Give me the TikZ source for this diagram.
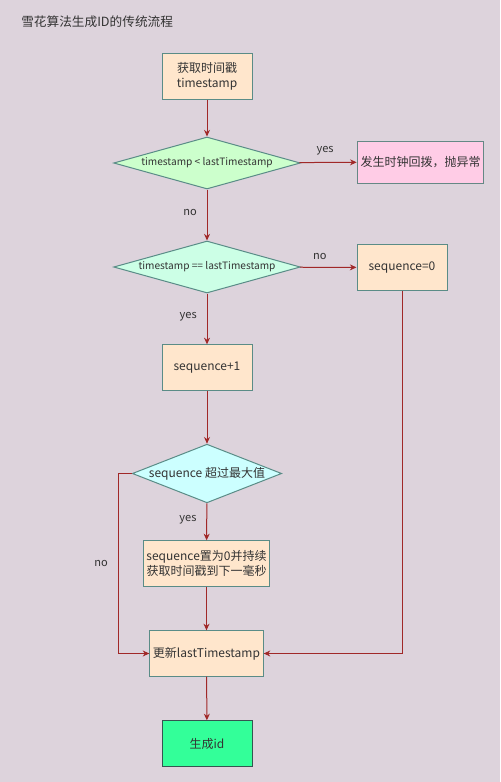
\documentclass[tikz,border=0pt]{standalone}
\usepackage{fontspec}
\setmainfont{Noto Sans CJK SC}
\usetikzlibrary{shapes.geometric,arrows.meta}
\definecolor{bg}{RGB}{221,211,220}
\definecolor{txt}{RGB}{51,51,51}
\definecolor{edge}{RGB}{160,40,40}
\definecolor{bstroke}{RGB}{90,140,135}
\definecolor{orangefill}{RGB}{255,230,204}
\definecolor{pinkfill}{RGB}{255,204,230}
\definecolor{greenfill}{RGB}{204,255,204}
\definecolor{mintfill}{RGB}{204,255,230}
\definecolor{cyanfill}{RGB}{204,255,255}
\definecolor{endfill}{RGB}{51,255,153}
\begin{document}
\begin{tikzpicture}[x=0.75pt,y=-0.75pt,
  every node/.style={text=txt,font=\fontsize{9}{11}\selectfont},
  box/.style={draw=bstroke,line width=0.75pt,fill=orangefill,inner sep=0pt,align=center},
  dia/.style={diamond,draw=bstroke,line width=0.75pt,inner sep=0pt},
  dtext/.style={font=\fontsize{7.6}{9}\selectfont},
  conn/.style={draw=edge,line width=0.75pt,-{Stealth[length=5pt,width=4.5pt]}},
  lbl/.style={font=\fontsize{8.3}{10}\selectfont}]
\fill[bg] (0,0) rectangle (500,782);
\useasboundingbox (0,0) rectangle (500,782);

\node[anchor=west,inner sep=0pt,font=\fontsize{9.5}{12}\selectfont] (title) at (21,22) {雪花算法生成ID的传统流程};

\node[box,minimum width=67.5pt,minimum height=34.5pt] (b1) at (207,76) {获取时间戳\\timestamp};
\node[dia,fill=greenfill,minimum width=140pt,minimum height=39pt] (d1) at (207,163) {};
\node[dtext] at (d1.center) {timestamp < lastTimestamp};
\node[box,fill=pinkfill,draw=bstroke!70!gray,minimum width=95pt,minimum height=31.5pt] (err) at (420.5,162) {发生时钟回拨，抛异常};
\node[dia,fill=mintfill,minimum width=140pt,minimum height=39pt] (d2) at (207,267) {};
\node[dtext] at (d2.center) {timestamp == lastTimestamp};
\node[box,minimum width=67.5pt,minimum height=34pt] (s0) at (402,267.5) {sequence=0};
\node[box,minimum width=67.5pt,minimum height=34pt] (s1) at (207,367.5) {sequence+1};
\node[dia,fill=cyanfill,minimum width=112pt,minimum height=44pt] (d3) at (207,473.5) {};
\node at (d3.center) {sequence 超过最大值};
\node[box,minimum width=95pt,minimum height=34pt] (wait) at (206.5,563.5) {sequence置为0并持续\\获取时间戳到下一毫秒};
\node[box,minimum width=85pt,minimum height=34pt] (upd) at (206.5,653.5) {更新lastTimestamp};
\node[box,fill=endfill,draw=bstroke!60!black,minimum width=67.5pt,minimum height=34pt] (gen) at (207,743.5) {生成id};

\draw[conn] (b1) -- (d1);
\draw[conn] (d1) -- node[lbl,above=2pt,pos=0.45] {yes} (err);
\draw[conn] (d1) -- node[lbl,left=4pt,pos=0.45] {no} (d2);
\draw[conn] (d2) -- node[lbl,above=2pt,pos=0.35] {no} (s0);
\draw[conn] (d2) -- node[lbl,left=4pt,pos=0.45] {yes} (s1);
\draw[conn] (s1) -- (d3);
\draw[conn] (d3) -- node[lbl,left=4pt,pos=0.45] {yes} (wait);
\coordinate (nl1) at (118,473.5);
\coordinate (nl2) at (118,653.5);
\draw[conn] (d3.west) -- (nl1) -- node[lbl,left=4pt,pos=0.5] {no} (nl2) -- (upd.west);
\draw[conn] (wait) -- (upd);
\coordinate (sr) at (402,653.5);
\draw[conn] (s0.south) -- (sr) -- (upd.east);
\draw[conn] (upd) -- (gen);
\end{tikzpicture}
\end{document}
